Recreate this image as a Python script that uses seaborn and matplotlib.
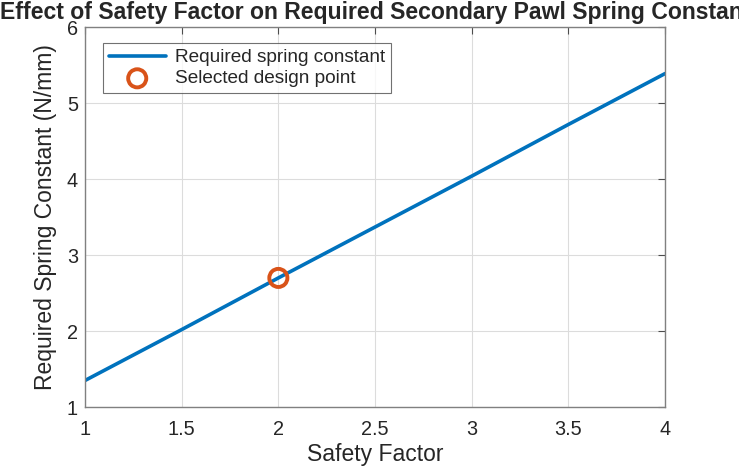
import matplotlib
matplotlib.use('Agg')
import matplotlib.pyplot as plt
import seaborn as sns
import numpy as np
import pandas as pd

# data
safety_factor = [1.0, 1.5, 2.0, 2.5, 3.0, 3.5, 4.0]
spring_k = [1.35, 2.02, 2.70, 3.37, 4.04, 4.72, 5.39]
design_sf = [2.0]
design_k = [2.70]

sns.set_style('white')
plt.rcParams['font.family'] = ['Liberation Sans', 'DejaVu Sans']

df = pd.DataFrame({'SF': safety_factor, 'k': spring_k})
pt = pd.DataFrame({'SF': design_sf, 'k': design_k})

fig, ax = plt.subplots(figsize=(7.39, 4.69), dpi=100)
fig.subplots_adjust(left=0.115, right=0.9, top=0.942, bottom=0.132)

sns.lineplot(data=df, x='SF', y='k', ax=ax, color='#0072BD', linewidth=2.6,
             label='Required spring constant')
sns.scatterplot(data=pt, x='SF', y='k', ax=ax, marker='o', s=170,
                facecolor='none', edgecolor='#D95319', linewidth=2.8,
                label='Selected design point', zorder=5)

ax.set_xlim(1, 4)
ax.set_ylim(1, 6)
ax.set_xticks(np.arange(1, 4.01, 0.5))
ax.set_xticklabels(['1', '1.5', '2', '2.5', '3', '3.5', '4'])
ax.set_yticks(range(1, 7))
ax.grid(True, color='#dcdcdc', linewidth=0.8)
ax.tick_params(axis='both', direction='in', labelsize=14.3, length=5,
               color='#4d4d4d', top=True, right=True, labelcolor='#262626')
ax.tick_params(axis='x', pad=9)
ax.tick_params(axis='y', pad=5)
for s in ax.spines.values():
    s.set_color('#808080')
    s.set_linewidth(1.0)

ax.set_xlabel('Safety Factor', fontsize=16.5, color='#262626', labelpad=3)
ax.set_ylabel('Required Spring Constant (N/mm)', fontsize=16.5, color='#262626',
              labelpad=7)
ax.set_title('Effect of Safety Factor on Required Secondary Pawl Spring Constant',
             fontsize=16.6, fontweight='bold', color='#262626', pad=6)

leg = ax.legend(loc='upper left', fontsize=13.7, frameon=True, fancybox=False,
                edgecolor='#4d4d4d', borderpad=0.3, handlelength=3.0,
                handletextpad=0.5, labelspacing=0.2, borderaxespad=0,
                bbox_to_anchor=(0.031, 0.958))
leg.get_frame().set_linewidth(0.8)

plt.savefig('out.png', dpi=100)
